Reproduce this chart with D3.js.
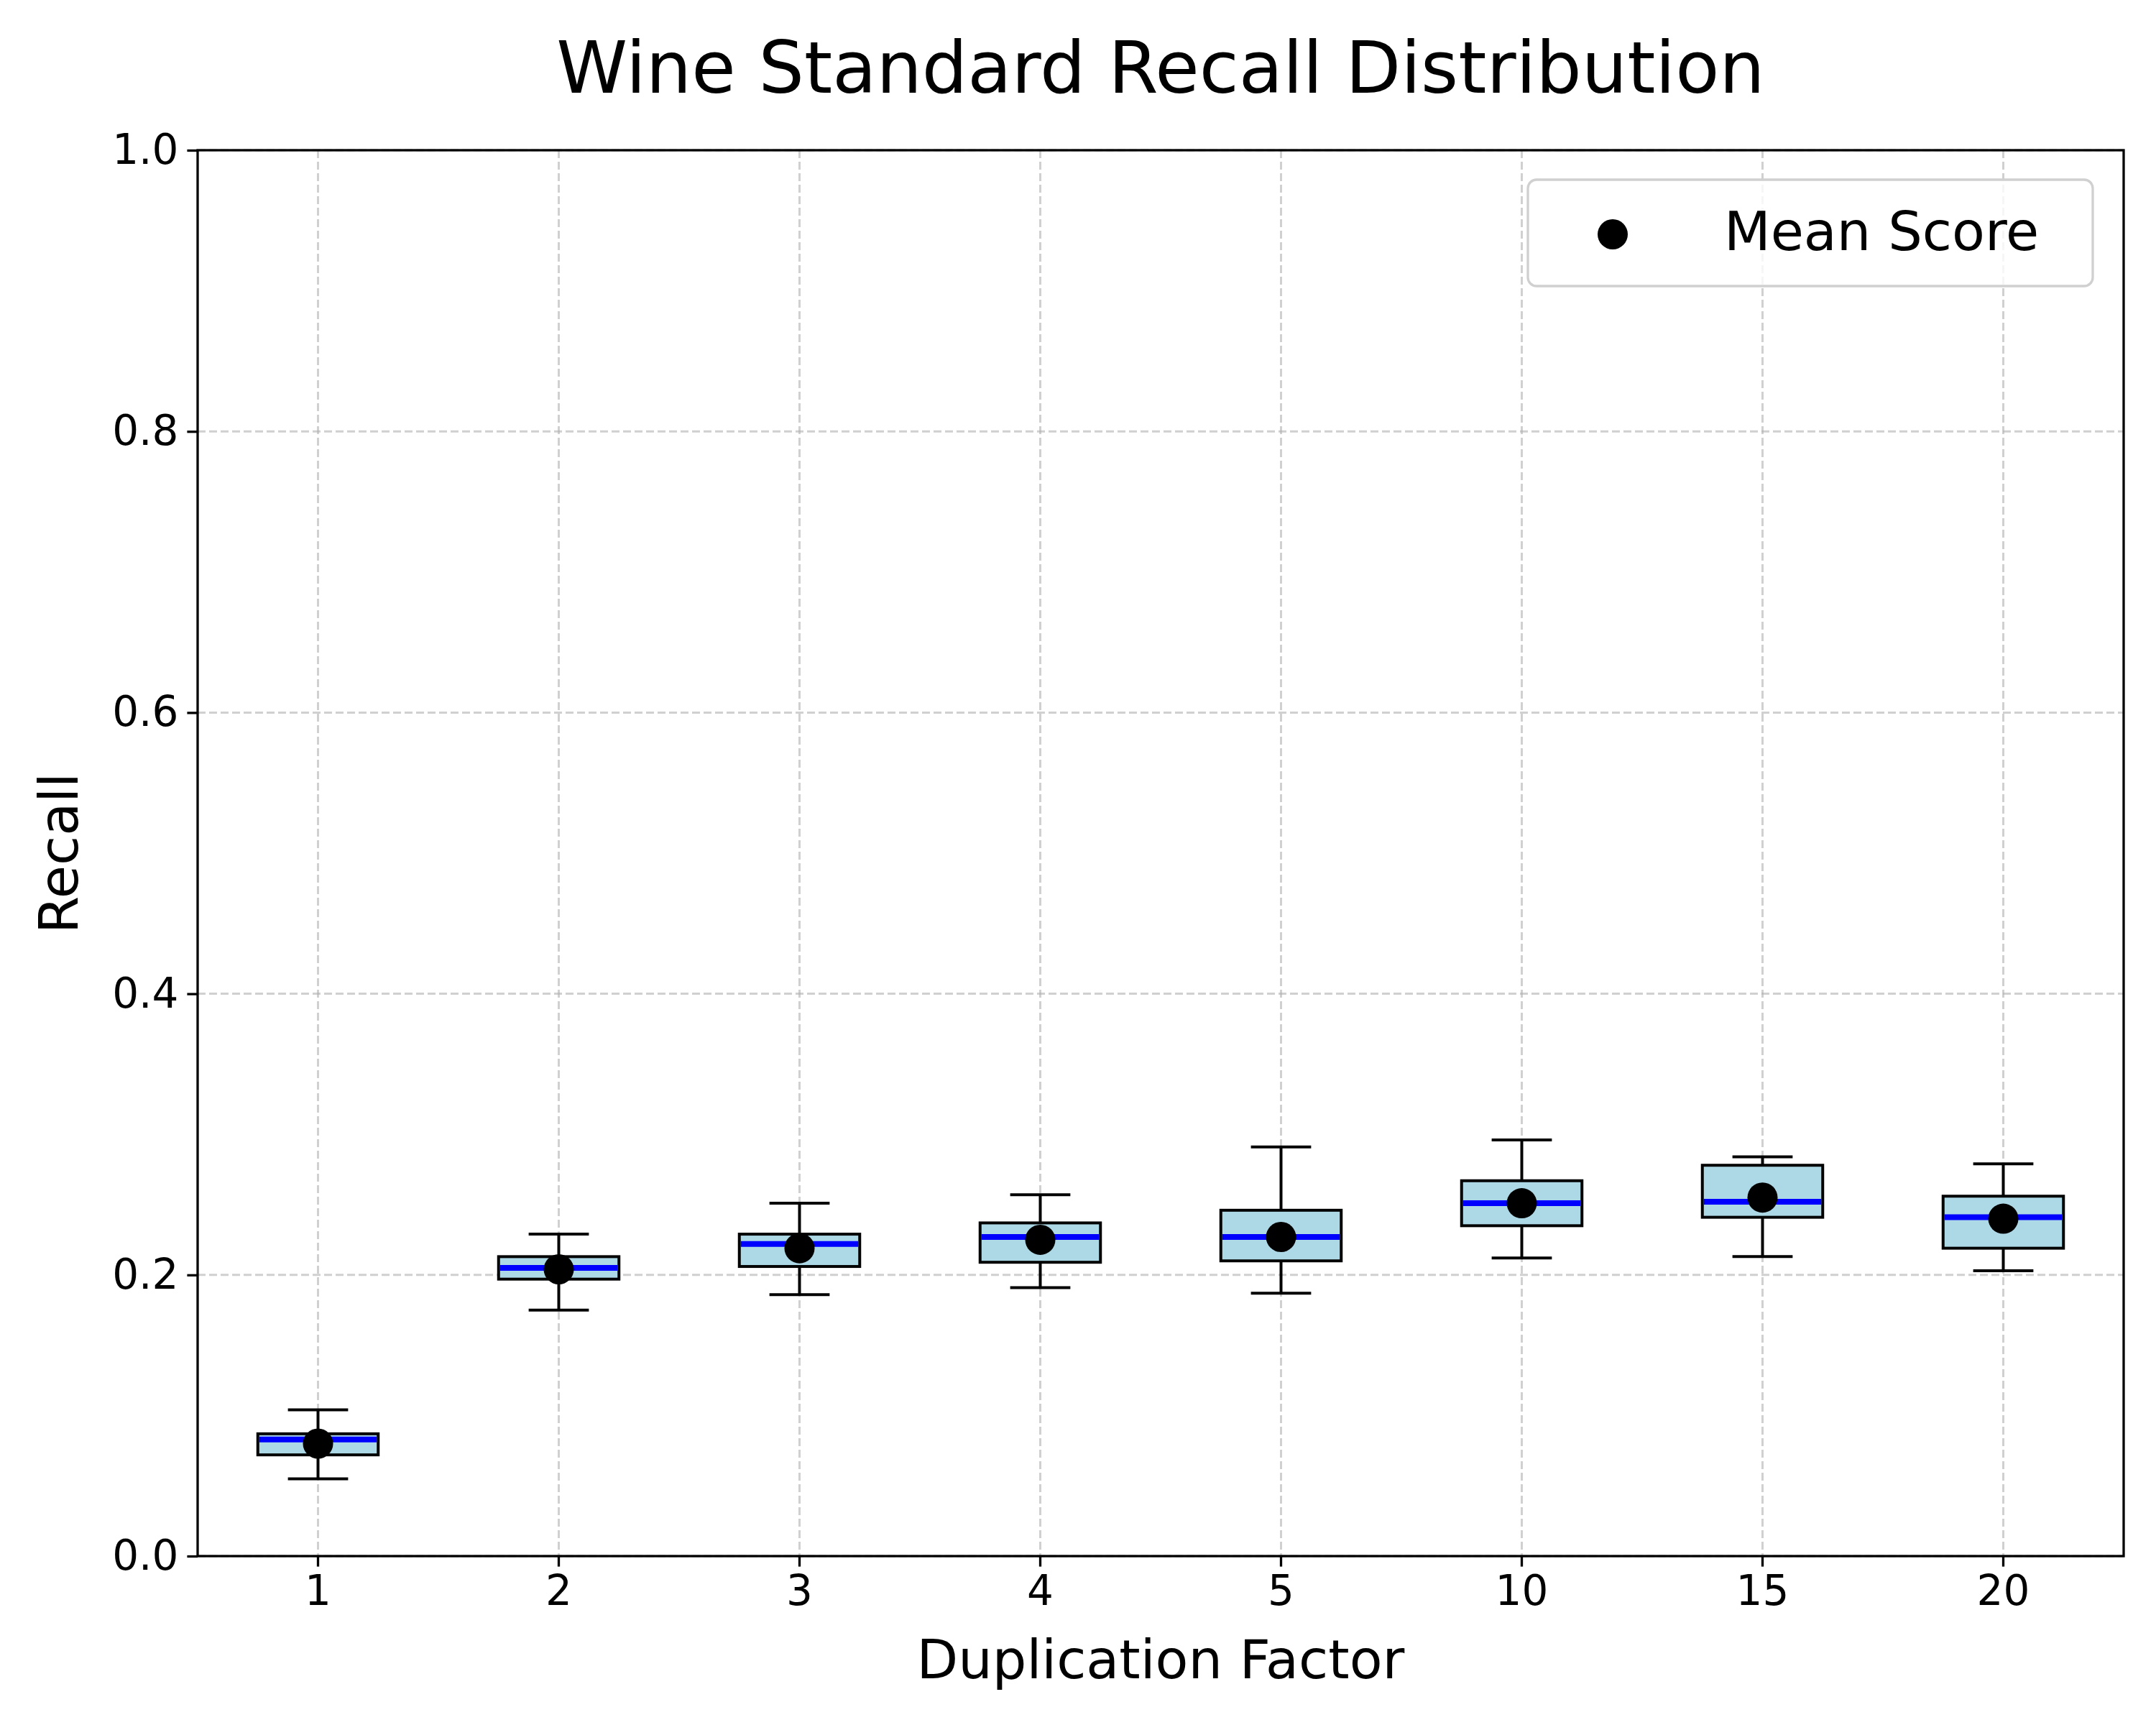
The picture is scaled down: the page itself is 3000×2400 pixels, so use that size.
<!DOCTYPE html>
<html><head><meta charset="utf-8">
<script src="https://cdn.jsdelivr.net/npm/d3@7"></script>
<style>body{margin:0;background:#fff}</style>
</head><body>
<script>
const categories = ["1","2","3","4","5","10","15","20"];
const whiskerLow  = [0.055,0.175,0.186,0.191,0.187,0.212,0.213,0.203];
const q1          = [0.072,0.197,0.206,0.209,0.210,0.235,0.241,0.219];
const median      = [0.083,0.205,0.222,0.227,0.227,0.251,0.252,0.241];
const q3          = [0.087,0.213,0.229,0.237,0.246,0.267,0.278,0.256];
const whiskerHigh = [0.104,0.229,0.251,0.257,0.291,0.296,0.284,0.279];
const means       = [0.080,0.204,0.219,0.225,0.227,0.251,0.255,0.240];
const yTicks = [0,0.2,0.4,0.6,0.8,1.0];

const W=3000,H=2400, L=275,R=2955,T=209,B=2165;
const font="DejaVu Sans";
const svg=d3.select("body").append("svg").attr("width",W).attr("height",H).style("font-family",font);
const x=d3.scaleBand().domain(categories).range([L,R]).paddingInner(0).paddingOuter(0);
const bw=x.bandwidth();
const cx=c=>x(c)+bw/2;
const y=d3.scaleLinear().domain([0,1]).range([B,T]);

// grid
const g=svg.append("g");
g.selectAll(".gx").data(categories).join("line").attr("x1",cx).attr("x2",cx).attr("y1",T).attr("y2",B)
 .attr("stroke","#b0b0b0").attr("stroke-opacity",0.6).attr("stroke-width",3).attr("stroke-dasharray","11,5");
g.selectAll(".gy").data(yTicks).join("line").attr("x1",L).attr("x2",R).attr("y1",d=>y(d)).attr("y2",d=>y(d))
 .attr("stroke","#b0b0b0").attr("stroke-opacity",0.6).attr("stroke-width",3).attr("stroke-dasharray","11,5");

// boxes
const data=categories.map((c,i)=>({c,lo:whiskerLow[i],q1:q1[i],md:median[i],q3:q3[i],hi:whiskerHigh[i],mn:means[i]}));
const bx=svg.append("g").selectAll("g").data(data).join("g");
bx.append("line").attr("x1",d=>cx(d.c)).attr("x2",d=>cx(d.c)).attr("y1",d=>y(d.hi)).attr("y2",d=>y(d.q3)).attr("stroke","#000").attr("stroke-width",4);
bx.append("line").attr("x1",d=>cx(d.c)).attr("x2",d=>cx(d.c)).attr("y1",d=>y(d.q1)).attr("y2",d=>y(d.lo)).attr("stroke","#000").attr("stroke-width",4);
bx.append("line").attr("x1",d=>cx(d.c)-bw/8).attr("x2",d=>cx(d.c)+bw/8).attr("y1",d=>y(d.hi)).attr("y2",d=>y(d.hi)).attr("stroke","#000").attr("stroke-width",4);
bx.append("line").attr("x1",d=>cx(d.c)-bw/8).attr("x2",d=>cx(d.c)+bw/8).attr("y1",d=>y(d.lo)).attr("y2",d=>y(d.lo)).attr("stroke","#000").attr("stroke-width",4);
bx.append("rect").attr("x",d=>cx(d.c)-bw/4).attr("width",bw/2).attr("y",d=>y(d.q3)).attr("height",d=>y(d.q1)-y(d.q3))
 .attr("fill","#add8e6").attr("stroke","#000").attr("stroke-width",4);
bx.append("line").attr("x1",d=>cx(d.c)-bw/4+2).attr("x2",d=>cx(d.c)+bw/4-2).attr("y1",d=>y(d.md)).attr("y2",d=>y(d.md)).attr("stroke","#0000ff").attr("stroke-width",8);
bx.append("circle").attr("cx",d=>cx(d.c)).attr("cy",d=>y(d.mn)).attr("r",21).attr("fill","#000");

// axes frame
svg.append("rect").attr("x",L).attr("y",T).attr("width",R-L).attr("height",B-T).attr("fill","none").attr("stroke","#000").attr("stroke-width",3.3);
const xa=svg.append("g").attr("transform",`translate(0,${B})`).call(d3.axisBottom(x).tickSize(14.6).tickPadding(12));
const ya=svg.append("g").attr("transform",`translate(${L},0)`).call(d3.axisLeft(y).tickValues(yTicks).tickFormat(d3.format(".1f")).tickSize(14.6).tickPadding(12));
[xa,ya].forEach(a=>{a.select(".domain").remove();a.selectAll("line").attr("stroke-width",3.3);a.selectAll("text").attr("font-size",58).attr("font-family",font).attr("fill","#000");});

svg.append("text").attr("x",(L+R)/2).attr("y",129).attr("text-anchor","middle").attr("font-size",100).text("Wine Standard Recall Distribution");
svg.append("text").attr("x",(L+R)/2).attr("y",2335).attr("text-anchor","middle").attr("font-size",75).text("Duplication Factor");
svg.append("text").attr("transform",`translate(108,${(T+B)/2}) rotate(-90)`).attr("text-anchor","middle").attr("font-size",75).text("Recall");

// legend
svg.append("rect").attr("x",2126).attr("y",250).attr("width",786).attr("height",148).attr("rx",12)
 .attr("fill","#fff").attr("fill-opacity",0.8).attr("stroke","#d0d0d0").attr("stroke-width",3.3);
svg.append("circle").attr("cx",2244).attr("cy",326).attr("r",21).attr("fill","#000");
svg.append("text").attr("x",2399).attr("y",348).attr("font-size",75).text("Mean Score");
</script>
</body></html>
